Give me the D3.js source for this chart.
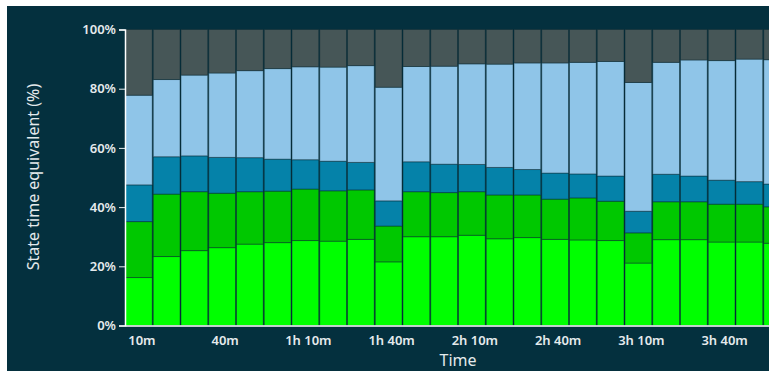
<!DOCTYPE html>
<html>
<head>
<meta charset="utf-8">
<script src="https://cdn.jsdelivr.net/npm/d3@7"></script>
<style>
  html, body { margin: 0; padding: 0; background: #ffffff; }
  svg { display: block; }
  text { font-family: "Noto Sans", "Open Sans", sans-serif; }
</style>
</head>
<body>
<svg id="chart" width="769" height="372"></svg>
<script>
// Interval end times in minutes (one bar per 10-minute window)
const minutes = [10, 20, 30, 40, 50, 60, 70, 80, 90, 100, 110, 120,
                 130, 140, 150, 160, 170, 180, 190, 200, 210, 220, 230, 240];

// Share of each state per interval (%)
const stateA = [16.2, 23.3, 25.3, 26.3, 27.5, 28.0, 28.7, 28.5, 29.1, 21.5, 30.0, 30.0,
                30.5, 29.3, 29.7, 29.1, 28.9, 28.7, 21.1, 29.0, 29.0, 28.2, 28.2, 27.8];
const stateB = [18.9, 21.1, 19.9, 18.4, 17.7, 17.4, 17.4, 17.0, 16.7, 12.1, 15.2, 14.9,
                14.7, 14.8, 14.4, 13.6, 14.2, 13.3, 10.2, 12.8, 12.8, 12.8, 12.8, 12.3];
const stateC = [12.4, 12.6, 12.1, 12.1, 11.5, 10.8, 9.9, 10.0, 9.3, 8.5, 10.1, 9.6,
                9.2, 9.3, 8.6, 8.8, 8.1, 8.5, 7.3, 9.3, 8.7, 8.1, 7.6, 7.7];
const stateD = [30.3, 26.1, 27.3, 28.5, 29.4, 30.6, 31.4, 31.8, 32.7, 38.4, 32.2, 33.1,
                34.0, 34.9, 36.0, 37.2, 37.7, 38.7, 43.5, 37.8, 39.2, 40.4, 41.4, 42.0];
const stateE = [22.2, 16.9, 15.4, 14.7, 13.9, 13.2, 12.6, 12.7, 12.2, 19.5, 12.5, 12.4,
                11.6, 11.7, 11.3, 11.3, 11.1, 10.8, 17.9, 11.1, 10.3, 10.5, 10.0, 10.2];

const yTicks = [0, 20, 40, 60, 80, 100];
const seriesKeys = ["a", "b", "c", "d", "e"];
const seriesColors = ["#00ff00", "#00c800", "#0582a9", "#8fc5e8", "#465657"];

function fmtTime(m) {
  const h = Math.floor(m / 60), r = m % 60;
  if (h === 0) return r + "m";
  return r === 0 ? h + "h" : h + "h " + r + "m";
}

const rows = minutes.map((m, i) => ({
  t: m, a: stateA[i], b: stateB[i], c: stateC[i], d: stateD[i], e: stateE[i]
}));

const svg = d3.select("#chart");
const W = 769, H = 372;

// dark panel
svg.append("rect").attr("x", 7).attr("y", 6).attr("width", W - 7).attr("height", 365)
  .attr("fill", "#04303e");

const plotLeft = 125, plotBottom = 325.5, plotTop = 29.5, step = 27.75;

const x = d3.scaleBand()
  .domain(minutes)
  .range([plotLeft, plotLeft + step * minutes.length])
  .padding(0);

const y = d3.scaleLinear().domain([0, 100]).range([plotBottom, plotTop]);

const stacked = d3.stack().keys(seriesKeys)
  .offset(d3.stackOffsetExpand)(rows);

const layers = svg.append("g").selectAll("g")
  .data(stacked)
  .join("g")
  .attr("fill", (d, i) => seriesColors[i]);

layers.selectAll("rect")
  .data(d => d)
  .join("rect")
  .attr("x", d => x(d.data.t) + 0.5)
  .attr("width", x.bandwidth() - 1)
  .attr("y", d => y(d[1] * 100))
  .attr("height", d => y(d[0] * 100) - y(d[1] * 100))
  .attr("stroke", "#0b2a33")
  .attr("stroke-opacity", 0.45)
  .attr("stroke-width", 1);

// y axis
const yAxis = svg.append("g")
  .attr("transform", `translate(${plotLeft},0)`)
  .call(d3.axisLeft(y).tickValues(yTicks).tickFormat(d => d + "%").tickSize(6).tickPadding(3));
yAxis.select(".domain").attr("stroke", "#ffffff").attr("stroke-width", 1.5);
yAxis.selectAll(".tick line").attr("stroke", "#e8eef0");
yAxis.selectAll("text").attr("fill", "#e4eaec").attr("font-size", 13).attr("font-weight", 600);

// x axis
const xAxis = svg.append("g")
  .attr("transform", `translate(3,${plotBottom})`)
  .call(d3.axisBottom(x)
    .tickValues(minutes.filter((m, i) => i % 3 === 0))
    .tickFormat(fmtTime)
    .tickSize(0).tickPadding(10));
xAxis.select(".domain").attr("stroke", "#ffffff").attr("stroke-width", 1.5)
  .attr("transform", "translate(-3,0)");
xAxis.selectAll("text").attr("fill", "#e4eaec").attr("font-size", 13).attr("font-weight", 600);

// axis titles
svg.append("text")
  .attr("x", 458).attr("y", 366)
  .attr("text-anchor", "middle")
  .attr("fill", "#e4eaec").attr("font-size", 16)
  .text("Time");

svg.append("text")
  .attr("transform", "translate(39,177) rotate(-90)")
  .attr("text-anchor", "middle")
  .attr("fill", "#e4eaec").attr("font-size", 16)
  .text("State time equivalent (%)");
</script>
</body>
</html>
